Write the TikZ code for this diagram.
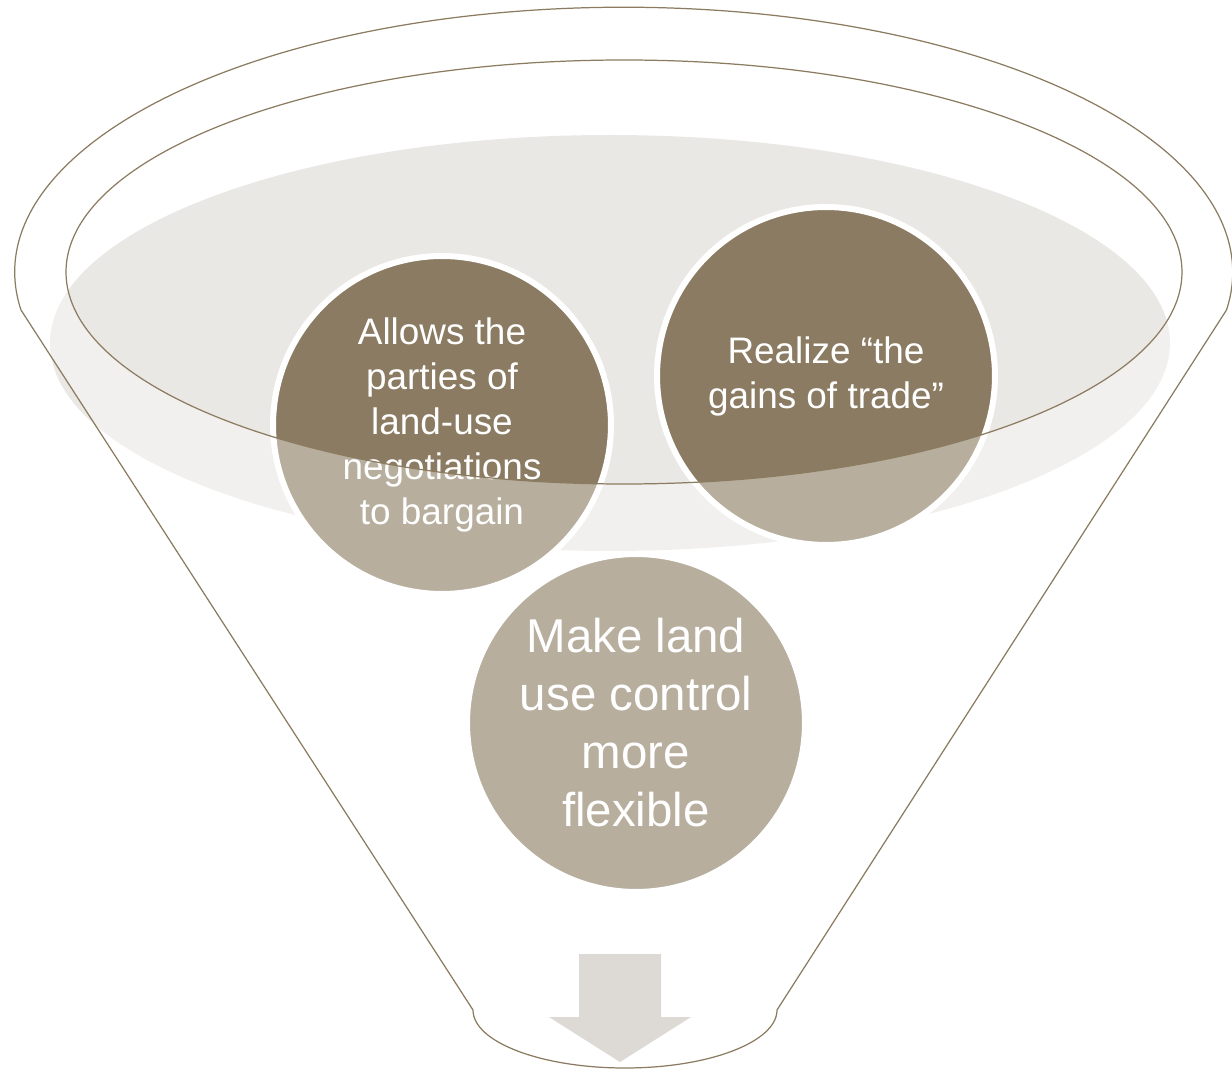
\documentclass[tikz,border=0pt]{standalone}
\usepackage{fontspec}
\usepackage{xcolor}
\usepackage{tikz}
\setmainfont{Liberation Sans}

\definecolor{rimbrown}{HTML}{8B7B60}
\definecolor{bowlgray}{HTML}{EAE8E4}
\definecolor{bubbledark}{HTML}{8A7B62}
\definecolor{dropgray}{HTML}{DDDAD5}

\tikzset{
    rim/.style={draw=rimbrown, line width=0.7pt},
    bubble/.style={circle, fill=bubbledark, draw=white, line width=0.12cm,
        minimum size=6.76cm, inner sep=0pt, text=white, align=center},
    small/.style={font=\fontsize{21}{25.6}\selectfont},
    large/.style={font=\fontsize{27}{33}\selectfont}
}

\begin{document}
\begin{tikzpicture}[x=0.02cm, y=-0.02cm]
    \useasboundingbox (0,0) rectangle (1232,1071);

    % Shaded liquid inside the bowl
    \fill[bowlgray] (610,343) ellipse[x radius=560, y radius=208];

    % The three bubbles
    \node[bubble, small] (bargain) at (442,425)
        {Allows the\\parties of\\land-use\\negotiations\\to bargain};
    \node[bubble, small] (gains) at (826,376)
        {Realize “the\\gains of trade”};
    \node[bubble, large] (flexible) at (636,723)
        {Make land\\use control\\more\\flexible};

    % Lighten the funnel body below the rim
    \fill[white, fill opacity=0.39, even odd rule]
        (21,310) arc[start angle=171.8, end angle=368.2, x radius=609, y radius=265]
        -- (777,1010) arc[start angle=0, end angle=180, x radius=152, y radius=58]
        -- cycle
        (624,272) ellipse[x radius=558, y radius=212];

    % Arrow out of the spout
    \fill[dropgray, preaction={draw=white, line width=0.28cm, line join=miter}]
        (579,954) -- (661,954) -- (661,1017) -- (691,1017) -- (620,1062)
        -- (549,1017) -- (579,1017) -- cycle;

    % Funnel outline and inner rim
    \draw[rim] (21,310) arc[start angle=171.8, end angle=368.2, x radius=609, y radius=265]
        -- (777,1010) arc[start angle=0, end angle=180, x radius=152, y radius=58]
        -- cycle;
    \draw[rim] (624,272) ellipse[x radius=558, y radius=212];
\end{tikzpicture}
\end{document}
